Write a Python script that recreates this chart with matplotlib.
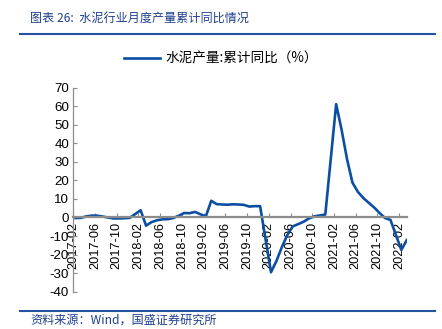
import matplotlib
matplotlib.use("Agg")
import matplotlib.pyplot as plt
import numpy as np
import pandas as pd

plt.rcParams["font.family"] = ["Noto Sans CJK SC", "DejaVu Sans"]

# 月度数据（1月与2月合并公布，故无1月）
meses = [p for p in pd.period_range("2017-02", "2022-03", freq="M") if p.month != 1]
valores_2017 = [-0.3, -0.2, 0.6, 1.0, 1.0, 0.5, 0.0, -0.5, -0.5, -0.4, -0.2]
valores_2018 = [3.9, -4.4, -2.5, -1.5, -1.0, -0.9, -0.3, 0.9, 2.4, 2.3, 3.0]
valores_2019 = [0.5, 9.0, 7.2, 7.0, 6.9, 7.1, 7.0, 6.8, 5.9, 6.1, 6.1]
valores_2020 = [-29.5, -23.5, -16.0, -9.5, -4.8, -3.6, -2.3, -0.5, 0.6, 1.1, 1.6]
valores_2021 = [61.1, 47.3, 31.5, 18.8, 13.8, 10.5, 7.9, 5.4, 2.4, -0.3, -1.3]
valores_2022 = [-17.5, -12.2]
valores = valores_2017 + valores_2018 + valores_2019 + valores_2020 + valores_2021 + valores_2022

etiquetas_x = [f"{a}-{m:02d}" for a in range(2017, 2023) for m in (2, 6, 10)][:16]
ticks_y = list(range(-40, 71, 10))

azul_linea = "#0B4EA2"
azul_texto = "#1F3F8F"
azul_regla = "#2453A0"
gris = "#8C8C8C"

x = np.array([(p.year - 2017) * 12 + p.month - 2 for p in meses])
desfase = 0.4  # los puntos quedan un poco a la derecha de cada marca

fig = plt.figure(figsize=(4.42, 3.29), dpi=100)
ax = fig.add_axes([0.1658, 0.1134, 0.9215 - 0.1658, 0.7337 - 0.1134])

(linea,) = ax.plot(x, valores, color=azul_linea, lw=1.9, solid_joinstyle="round")

# la posicion del eje borra el formato de las marcas: va primero
for lado in ("top", "right"):
    ax.spines[lado].set_visible(False)
ax.spines["bottom"].set_position(("data", 0))
ax.spines["bottom"].set_color(gris)
ax.spines["bottom"].set_linewidth(1.6)
ax.spines["left"].set_color(gris)
ax.spines["left"].set_linewidth(0.9)

ax.set_xlim(-desfase, 61.5 - desfase)
ax.set_ylim(-40, 70)
ax.set_yticks(ticks_y)
ax.set_xticks(np.arange(0, 61, 4) - desfase)
ax.set_xticklabels(etiquetas_x, rotation=90, fontsize=9.2, family="Liberation Sans")
ax.set_yticklabels([str(v) for v in ticks_y], fontsize=9.6, family="Liberation Sans")
ax.tick_params(axis="x", direction="in", length=3, color=gris, pad=3)
ax.tick_params(axis="y", direction="in", length=3, color=gris, pad=3)
ax.set_zorder(1)

fig.legend(
    [linea],
    ["水泥产量:累计同比（%）"],
    loc="center",
    bbox_to_anchor=(0.5, 1 - 59 / 329),
    frameon=False,
    fontsize=9.8,
    handlelength=2.6,
    handletextpad=0.4,
)

fig.text(30 / 442, 1 - 18 / 329, "图表 26:  水泥行业月度产量累计同比情况",
         fontsize=8.7, color=azul_texto, style="italic", va="center", ha="left")
fig.add_artist(plt.Line2D([20 / 442, 435 / 442], [1 - 33.5 / 329] * 2, color=azul_regla, lw=1.5))
fig.add_artist(plt.Line2D([20 / 442, 435 / 442], [1 - 311 / 329] * 2, color=azul_regla, lw=1.5))
fig.text(30 / 442, 1 - 320 / 329, "资料来源：Wind，国盛证券研究所",
         fontsize=8.7, color=azul_texto, style="italic", va="center", ha="left")

fig.savefig("out.png", dpi=100)
